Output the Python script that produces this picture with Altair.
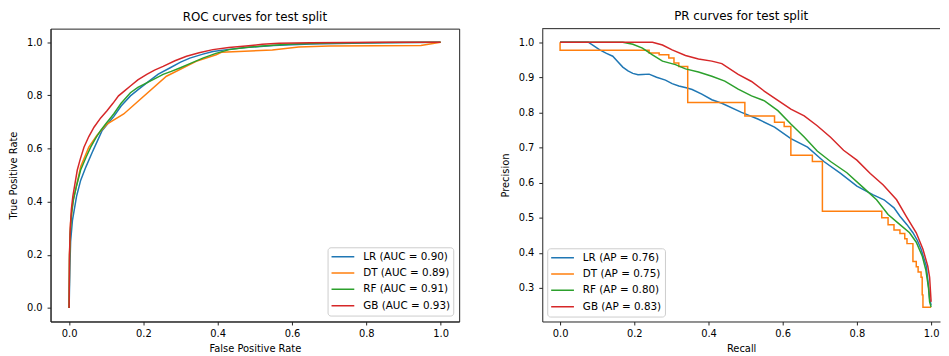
import altair as alt
import pandas as pd

models = ["LR", "DT", "RF", "GB"]
colors = ["#1f77b4", "#ff7f0e", "#2ca02c", "#d62728"]
auc_vals = ["0.90", "0.89", "0.91", "0.93"]
ap_vals = ["0.76", "0.75", "0.80", "0.83"]
unit_ticks = [0.0, 0.2, 0.4, 0.6, 0.8, 1.0]
prec_ticks = [0.3, 0.4, 0.5, 0.6, 0.7, 0.8, 0.9, 1.0]

# ---------------- ROC curves ----------------
roc_lr_x = [0, 0.002, 0.004, 0.009, 0.02, 0.031, 0.045, 0.062, 0.075, 0.089, 0.105, 0.12, 0.14, 0.165,
            0.19, 0.209, 0.24, 0.271, 0.3, 0.325, 0.36, 0.387, 0.43, 0.476, 0.55, 0.65, 0.8, 0.9, 1.0]
roc_lr_y = [0, 0.15, 0.25, 0.33, 0.42, 0.48, 0.53, 0.585, 0.625, 0.668, 0.695, 0.72, 0.76, 0.798,
            0.826, 0.847, 0.88, 0.903, 0.925, 0.94, 0.955, 0.965, 0.973, 0.98, 0.988, 0.993, 0.997, 0.999, 1.0]

roc_dt_x = [0, 0.001, 0.004, 0.01, 0.02, 0.031, 0.053, 0.075, 0.102, 0.147, 0.262, 0.342, 0.396, 0.41,
            0.547, 0.618, 0.7, 0.947, 1.0]
roc_dt_y = [0, 0.2, 0.32, 0.4, 0.46, 0.531, 0.605, 0.65, 0.692, 0.73, 0.872, 0.928, 0.953, 0.962,
            0.971, 0.982, 0.986, 0.988, 1.0]

roc_rf_x = [0, 0.001, 0.003, 0.007, 0.012, 0.02, 0.031, 0.045, 0.058, 0.072, 0.085, 0.1, 0.12, 0.14,
            0.165, 0.185, 0.209, 0.23, 0.253, 0.275, 0.298, 0.33, 0.36, 0.395, 0.431, 0.475, 0.52, 0.6,
            0.7, 0.85, 1.0]
roc_rf_y = [0, 0.18, 0.28, 0.36, 0.41, 0.46, 0.519, 0.565, 0.605, 0.64, 0.668, 0.695, 0.73, 0.77,
            0.81, 0.83, 0.847, 0.862, 0.879, 0.89, 0.903, 0.922, 0.94, 0.958, 0.972, 0.98, 0.986, 0.993,
            0.997, 0.999, 1.0]

roc_gb_x = [0, 0.001, 0.003, 0.006, 0.01, 0.016, 0.022, 0.03, 0.04, 0.053, 0.067, 0.085, 0.102, 0.118,
            0.133, 0.15, 0.165, 0.185, 0.209, 0.23, 0.253, 0.285, 0.316, 0.35, 0.387, 0.43, 0.476, 0.52,
            0.565, 0.65, 0.75, 0.85, 1.0]
roc_gb_y = [0, 0.2, 0.3, 0.37, 0.42, 0.47, 0.519, 0.56, 0.605, 0.645, 0.68, 0.715, 0.742, 0.77,
            0.798, 0.818, 0.835, 0.858, 0.879, 0.895, 0.909, 0.93, 0.947, 0.96, 0.972, 0.98, 0.986, 0.992,
            0.996, 0.998, 0.999, 1.0, 1.0]

# ---------------- PR curves ----------------
pr_lr_x = [0, 0.076, 0.09, 0.107, 0.125, 0.142, 0.155, 0.169, 0.183, 0.196, 0.21, 0.222, 0.24, 0.26,
           0.284, 0.302, 0.32, 0.34, 0.356, 0.382, 0.409, 0.436, 0.489, 0.533, 0.578, 0.622, 0.667,
           0.711, 0.756, 0.8, 0.844, 0.873, 0.9, 0.916, 0.935, 0.951, 0.963, 0.973, 0.987, 0.993, 0.996, 1.0]
pr_lr_y = [1.0, 1.0, 0.99, 0.978, 0.968, 0.96, 0.945, 0.929, 0.918, 0.911, 0.907, 0.908, 0.909, 0.9,
           0.892, 0.882, 0.875, 0.87, 0.865, 0.852, 0.836, 0.826, 0.8, 0.781, 0.758, 0.725, 0.701,
           0.66, 0.626, 0.59, 0.565, 0.551, 0.528, 0.504, 0.48, 0.457, 0.435, 0.41, 0.362, 0.305, 0.27, 0.25]

pr_dt_x = [0, 0, 0.24, 0.24, 0.267, 0.267, 0.293, 0.293, 0.307, 0.307, 0.32, 0.32, 0.344, 0.344,
           0.498, 0.498, 0.578, 0.578, 0.604, 0.604, 0.622, 0.622, 0.68, 0.68, 0.707, 0.707,
           0.867, 0.867, 0.884, 0.884, 0.9, 0.9, 0.916, 0.916, 0.929, 0.929, 0.935, 0.935, 0.951, 0.951,
           0.96, 0.96, 0.965, 0.965, 0.973, 0.973, 0.976, 0.976, 0.978, 0.978, 1.0]
pr_dt_y = [1.0, 0.977, 0.977, 0.969, 0.969, 0.964, 0.964, 0.955, 0.955, 0.941, 0.941, 0.931, 0.931, 0.828,
           0.828, 0.79, 0.79, 0.772, 0.772, 0.76, 0.76, 0.678, 0.678, 0.66, 0.66, 0.518,
           0.518, 0.5, 0.5, 0.48, 0.48, 0.465, 0.465, 0.455, 0.455, 0.44, 0.44, 0.426, 0.426, 0.375,
           0.375, 0.36, 0.36, 0.345, 0.345, 0.33, 0.33, 0.28, 0.28, 0.245, 0.245]

pr_rf_x = [0, 0.169, 0.196, 0.222, 0.249, 0.276, 0.311, 0.338, 0.373, 0.409, 0.444, 0.48, 0.516, 0.551,
           0.587, 0.622, 0.658, 0.693, 0.729, 0.773, 0.818, 0.853, 0.884, 0.916, 0.942, 0.96, 0.976,
           0.986, 0.993, 0.996, 1.0]
pr_rf_y = [1.0, 1.0, 0.994, 0.983, 0.964, 0.946, 0.936, 0.924, 0.915, 0.903, 0.889, 0.866, 0.847, 0.833,
           0.805, 0.767, 0.73, 0.69, 0.66, 0.628, 0.585, 0.551, 0.509, 0.48, 0.457, 0.43, 0.391,
           0.35, 0.3, 0.26, 0.245]

pr_gb_x = [0, 0.249, 0.276, 0.302, 0.338, 0.373, 0.409, 0.436, 0.48, 0.516, 0.551, 0.587, 0.622, 0.658,
           0.693, 0.729, 0.764, 0.8, 0.836, 0.871, 0.907, 0.933, 0.96, 0.978, 0.991, 0.996, 1.0]
pr_gb_y = [1.0, 1.0, 0.992, 0.978, 0.962, 0.952, 0.946, 0.939, 0.908, 0.888, 0.86, 0.834, 0.809, 0.79,
           0.762, 0.729, 0.692, 0.664, 0.626, 0.593, 0.551, 0.504, 0.457, 0.41, 0.362, 0.33, 0.26]


def build(labels, xs_list, ys_list):
    rows = []
    for lab, xs, ys in zip(labels, xs_list, ys_list):
        for i, (xv, yv) in enumerate(zip(xs, ys)):
            rows.append({"x": xv, "y": yv, "series": lab, "i": i})
    return pd.DataFrame(rows)


roc_labels = [f"{m} (AUC = {v})" for m, v in zip(models, auc_vals)]
pr_labels = [f"{m} (AP = {v})" for m, v in zip(models, ap_vals)]

roc_df = build(roc_labels, [roc_lr_x, roc_dt_x, roc_rf_x, roc_gb_x],
               [roc_lr_y, roc_dt_y, roc_rf_y, roc_gb_y])
pr_df = build(pr_labels, [pr_lr_x, pr_dt_x, pr_rf_x, pr_gb_x],
              [pr_lr_y, pr_dt_y, pr_rf_y, pr_gb_y])

FONT = "DejaVu Sans"
FRAME = "#222222"
LEFT_W, RIGHT_W, H = 413, 402, 296


def legend(orient, offset):
    return alt.Legend(title=None, orient=orient, offset=offset, padding=3,
                      strokeColor="#cccccc", fillColor="white", cornerRadius=3,
                      symbolType="stroke", symbolSize=529, symbolStrokeWidth=1.5,
                      labelFont=FONT, labelFontSize=10.5, labelColor="black",
                      labelOffset=8, clipHeight=13, rowPadding=3.5, labelLimit=300)


def title(text):
    return alt.TitleParams(text, fontSize=12, fontWeight="normal", font=FONT,
                           anchor="middle", offset=5, color="black")


roc = alt.Chart(roc_df).mark_line(strokeWidth=1.5).encode(
    x=alt.X("x:Q", scale=alt.Scale(domain=[-0.05, 1.05], nice=False, zero=False),
            axis=alt.Axis(values=unit_ticks, format=".1f", title="False Positive Rate")),
    y=alt.Y("y:Q", scale=alt.Scale(domain=[-0.051, 1.051], nice=False, zero=False),
            axis=alt.Axis(values=unit_ticks, format=".1f", title="True Positive Rate")),
    color=alt.Color("series:N", scale=alt.Scale(domain=roc_labels, range=colors),
                    legend=legend("bottom-right", 6)),
    order=alt.Order("i:Q"),
).properties(width=LEFT_W, height=H, title=title("ROC curves for test split"))

pr_lines = alt.Chart(pr_df).mark_line(strokeWidth=1.5).encode(
    x=alt.X("x:Q", scale=alt.Scale(domain=[-0.048, 1.024], nice=False, zero=False),
            axis=alt.Axis(values=unit_ticks, format=".1f", title="Recall")),
    y=alt.Y("y:Q", scale=alt.Scale(domain=[0.2041, 1.0386], nice=False, zero=False),
            axis=alt.Axis(values=prec_ticks, format=".1f", title="Precision")),
    color=alt.Color("series:N", scale=alt.Scale(domain=pr_labels, range=colors),
                    legend=legend("bottom-left", 5)),
    order=alt.Order("i:Q"),
)
top_rule = alt.Chart(pd.DataFrame({"k": [0]})).mark_rule(color=FRAME, strokeWidth=1).encode(
    x=alt.value(0), x2=alt.value(RIGHT_W), y=alt.value(0))

pr = alt.layer(pr_lines, top_rule).properties(
    width=RIGHT_W, height=H, title=title("PR curves for test split"),
    view=alt.ViewBackground(stroke="transparent"))

chart = alt.hconcat(roc, pr, spacing=40).resolve_scale(color="independent").properties(
    padding=0, background="white"
).configure_view(
    stroke=FRAME, strokeWidth=1
).configure_axis(
    grid=False, labelFont=FONT, titleFont=FONT, labelFontSize=10, titleFontSize=10,
    titleFontWeight="normal", labelColor="black", titleColor="black",
    domainColor=FRAME, tickColor=FRAME, tickSize=3.5,
).configure_axisX(
    labelPadding=4, titlePadding=5
).configure_axisY(
    labelPadding=5, titlePadding=8
)

chart.save("out.html", embed_options={"renderer": "svg", "actions": False})
